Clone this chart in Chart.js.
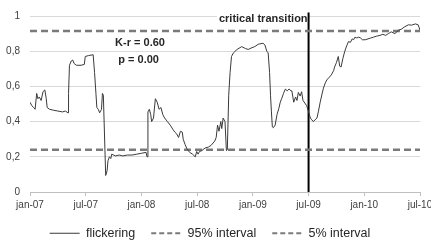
<!DOCTYPE html>
<html>
<head>
<meta charset="utf-8">
<script src="https://cdn.jsdelivr.net/npm/chart.js@4.4.1/dist/chart.umd.min.js"></script>
<style>
	html, body { margin: 0; padding: 0; background: #ffffff; }
	#wrap { width: 431px; height: 242px; position: relative; }
</style>
</head>
<body>
<div id="wrap"><canvas id="chart"></canvas></div>
<script>
// months since jan-07
const flickerMonths = [
	0, 0.2, 0.4, 0.55, 0.72, 0.85, 1.0, 1.2, 1.4, 1.6, 1.75, 1.85, 2.1, 2.5, 3.0, 3.5, 3.8, 4.1,
	4.15, 4.25, 4.45, 4.6, 4.75, 5.0, 5.5, 5.85, 5.95, 6.3, 6.8, 6.95, 7.1, 7.2, 7.35, 7.5, 7.7,
	7.8, 7.9, 8.15, 8.3, 8.4, 8.55, 8.7, 8.8, 9.2, 9.6, 10, 10.5, 11, 11.5, 12, 12.5, 12.6, 12.7,
	12.85, 13.0, 13.1, 13.3, 13.5, 13.7, 13.9, 14.1, 14.3, 14.5, 14.8, 15.1, 15.4, 15.6, 15.8,
	16.0, 16.2, 16.4, 16.5, 16.7, 16.9, 17.2, 17.5, 17.8, 17.95, 18.1, 18.25, 18.5, 18.85, 19.2,
	19.5, 19.9, 20.05, 20.2, 20.35, 20.55, 20.65, 20.8, 21.0, 21.15, 21.25, 21.4, 21.55, 21.7,
	21.9, 22.3, 22.8, 23.2, 23.5, 23.9, 24.2, 24.6, 25.1, 25.3, 25.5, 25.65, 25.8, 25.9, 26.0,
	26.1, 26.2, 26.4, 26.6, 26.8, 26.95, 27.1, 27.3, 27.5, 27.7, 27.9, 28.1, 28.2, 28.4, 28.6,
	28.75, 28.9, 29.1, 29.25, 29.4, 29.6, 29.8, 30.0, 30.2, 30.35, 30.5, 30.7, 30.9, 31.05,
	31.25, 31.45, 31.6, 31.8, 32.0, 32.3, 32.5, 32.7, 32.8, 33.0, 33.2, 33.35, 33.5, 33.7, 33.9,
	34.1, 34.3, 34.5, 34.7, 34.85, 35.0, 35.2, 35.4, 35.6, 35.8, 36.1, 36.4, 36.7, 37.0, 37.3,
	37.7, 38.0, 38.3, 38.6, 38.9, 39.3, 39.7, 40.0, 40.3, 40.75, 41.1, 41.5, 41.8, 42.0,
];
const flickerValues = [
	0.51, 0.49, 0.48, 0.47, 0.56, 0.53, 0.54, 0.52, 0.57, 0.58, 0.53, 0.48, 0.47, 0.465, 0.46, 0.455, 0.46, 0.45,
	0.56, 0.72, 0.745, 0.75, 0.73, 0.72, 0.72, 0.725, 0.77, 0.775, 0.78, 0.68, 0.56, 0.48, 0.47, 0.45, 0.47,
	0.56, 0.55, 0.094, 0.12, 0.178, 0.2, 0.19, 0.215, 0.205, 0.21, 0.205, 0.21, 0.21, 0.215, 0.22, 0.225, 0.2, 0.455,
	0.47, 0.44, 0.40, 0.42, 0.53, 0.51, 0.47, 0.48, 0.44, 0.42, 0.40, 0.38, 0.355, 0.34, 0.33,
	0.31, 0.345, 0.34, 0.30, 0.27, 0.245, 0.225, 0.215, 0.2, 0.23, 0.215, 0.23, 0.235, 0.25, 0.255,
	0.265, 0.29, 0.31, 0.38, 0.345, 0.40, 0.36, 0.42, 0.40, 0.235, 0.24, 0.55, 0.68, 0.77,
	0.79, 0.81, 0.826, 0.815, 0.81, 0.82, 0.826, 0.84, 0.845, 0.835, 0.80, 0.79, 0.68, 0.55, 0.455,
	0.37, 0.365, 0.38, 0.44, 0.475, 0.51, 0.53, 0.56, 0.585, 0.575, 0.585, 0.575, 0.575, 0.51, 0.54,
	0.52, 0.566, 0.545, 0.57, 0.52, 0.505, 0.49, 0.455, 0.42, 0.41, 0.40, 0.41, 0.42, 0.455,
	0.51, 0.557, 0.59, 0.62, 0.64, 0.655, 0.67, 0.69, 0.71, 0.735, 0.77, 0.715, 0.71, 0.76, 0.80,
	0.83, 0.855, 0.85, 0.87, 0.865, 0.88, 0.875, 0.88, 0.875, 0.865, 0.865, 0.87, 0.875, 0.88, 0.885,
	0.89, 0.896, 0.89, 0.90, 0.91, 0.90, 0.92, 0.925, 0.937, 0.95, 0.948, 0.955, 0.95, 0.92,
];
const intervalMonths = [0, 42];
const upperInterval = [0.915, 0.915];
const lowerInterval = [0.24, 0.24];
const transitionMonths = [30, 30];
const transitionValues = [0, 1.02];

const xTickLabels = ['jan-07', 'jul-07', 'jan-08', 'jul-08', 'jan-09', 'jul-09', 'jan-10', 'jul-10'];
const yTickLabels = ['0', '0,2', '0,4', '0,6', '0,8', '1'];
const seriesNames = ['flickering', '95% interval', '5% interval'];

const toPoints = (xs, ys) => xs.map((x, i) => ({ x, y: ys[i] }));

const FONT = '"Liberation Sans", Arial, sans-serif';
const TEXT = '#404040';

const annotations = {
	id: 'annotations',
	beforeDatasetsDraw(chart) {
		const { ctx, scales: { x, y } } = chart;
		ctx.save();

		// "critical transition" label sits on a white patch left of the line
		ctx.font = `bold 11px ${FONT}`;
		const label = 'critical transition';
		const right = x.getPixelForValue(transitionMonths[0]) - 1;
		const width = ctx.measureText(label).width;
		const top = y.getPixelForValue(1);
		ctx.fillStyle = '#ffffff';
		ctx.fillRect(right - width - 2, top - 5, width + 3, 14);
		ctx.fillStyle = '#262626';
		ctx.textAlign = 'right';
		ctx.textBaseline = 'middle';
		ctx.fillText(label, right, top + 3);

		ctx.font = `bold 11px ${FONT}`;
		ctx.textAlign = 'center';
		ctx.fillText('K-r = 0.60', x.getPixelForValue(11.85), y.getPixelForValue(0.845));
		ctx.fillText('p = 0.00', x.getPixelForValue(11.7), y.getPixelForValue(0.75));
		ctx.restore();
	},
};

// keep the legend low and tight against the canvas bottom
const legendHeight = {
	id: 'legendHeight',
	beforeInit(chart) {
		const fit = chart.legend.fit;
		chart.legend.fit = function () {
			fit.call(this);
			this.height = 31;
		};
	},
};

const defaultLabels = Chart.defaults.plugins.legend.labels.generateLabels;

new Chart(document.getElementById('chart'), {
	type: 'line',
	data: {
		datasets: [
			{
				label: seriesNames[0],
				data: toPoints(flickerMonths, flickerValues),
				borderColor: '#3a3a3a',
				borderWidth: 1,
				pointRadius: 0,
				pointStyle: 'line',
				tension: 0,
			},
			{
				label: seriesNames[1],
				data: toPoints(intervalMonths, upperInterval),
				borderColor: '#7a7a7a',
				borderWidth: 2.5,
				borderDash: [7, 4],
				pointRadius: 0,
				pointStyle: 'line',
			},
			{
				label: seriesNames[2],
				data: toPoints(intervalMonths, lowerInterval),
				borderColor: '#7a7a7a',
				borderWidth: 2.5,
				borderDash: [7, 4],
				pointRadius: 0,
				pointStyle: 'line',
			},
			{
				label: 'transition',
				data: toPoints(transitionMonths, transitionValues),
				borderColor: '#000000',
				borderWidth: 2,
				pointRadius: 0,
				clip: false,
			},
		],
	},
	options: {
		responsive: true,
		maintainAspectRatio: false,
		animation: false,
		devicePixelRatio: 1,
		layout: {
			padding: { left: 0, right: 11, top: 12, bottom: 0 },
		},
		plugins: {
			tooltip: { enabled: false },
			legend: {
				position: 'bottom',
				labels: {
					usePointStyle: true,
					pointStyleWidth: 30,
					padding: 16,
					color: '#262626',
					font: { family: FONT, size: 12.5 },
					generateLabels: (chart) => defaultLabels(chart)
						.filter((item) => item.datasetIndex < 3)
						.map((item) => ({
							...item,
							lineWidth: item.datasetIndex === 0 ? 1 : 2,
							lineDash: item.datasetIndex === 0 ? [] : [5, 3],
						})),
				},
			},
		},
		scales: {
			x: {
				type: 'linear',
				min: 0,
				max: 42,
				afterFit: (scale) => {
					scale.paddingRight = 0;
					scale.paddingLeft = 0;
					scale.height = 19;
				},
				ticks: {
					stepSize: 6,
					autoSkip: false,
					maxRotation: 0,
					padding: 3,
					color: TEXT,
					font: { family: FONT, size: 10 },
					callback: (value) => xTickLabels[Math.round(value / 6)],
				},
				grid: {
					drawOnChartArea: false,
					drawTicks: true,
					tickLength: 4,
					color: '#bfbfbf',
				},
				border: { color: '#bfbfbf' },
			},
			y: {
				min: 0,
				max: 1,
				afterFit: (scale) => {
					scale.width = 30;
				},
				ticks: {
					stepSize: 0.2,
					padding: 10,
					color: TEXT,
					font: { family: FONT, size: 10 },
					callback: (value) => yTickLabels[Math.round(value / 0.2)],
				},
				grid: {
					color: '#d9d9d9',
					drawTicks: false,
				},
				border: { display: false },
			},
		},
	},
	plugins: [annotations, legendHeight],
});
</script>
</body>
</html>
